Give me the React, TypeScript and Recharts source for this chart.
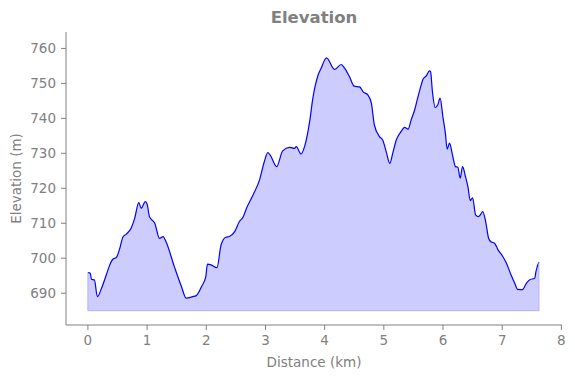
import { AreaChart, Area, XAxis, YAxis, ReferenceLine } from "recharts"

// distance along the route (km) and elevation (m)
const distanceKm = [
  0, 0.04, 0.06, 0.11, 0.16, 0.23, 0.31, 0.37, 0.42, 0.48, 0.54, 0.59, 0.65, 0.73, 0.79, 0.86, 0.9, 0.97, 1.0,
  1.04, 1.13, 1.21, 1.27, 1.32, 1.46, 1.58, 1.66, 1.77, 1.83, 1.92, 1.99, 2.02, 2.08, 2.18, 2.25, 2.33, 2.39,
  2.48, 2.56, 2.62, 2.68, 2.79, 2.9, 2.98, 3.04, 3.08, 3.19, 3.29, 3.41, 3.49, 3.52, 3.6, 3.66, 3.75, 3.8, 3.89,
  3.94, 4.0, 4.03, 4.17, 4.28, 4.34, 4.42, 4.5, 4.59, 4.65, 4.73, 4.79, 4.84, 4.93, 4.98, 5.04, 5.1, 5.15, 5.21,
  5.29, 5.35, 5.41, 5.46, 5.52, 5.57, 5.63, 5.66, 5.72, 5.77, 5.79, 5.82, 5.87, 5.91, 5.95, 6.0, 6.04, 6.07,
  6.11, 6.16, 6.21, 6.25, 6.29, 6.33, 6.38, 6.42, 6.46, 6.5, 6.55, 6.6, 6.63, 6.67, 6.72, 6.77, 6.81, 6.87,
  6.93, 7.01, 7.07, 7.15, 7.21, 7.26, 7.34, 7.41, 7.46, 7.55, 7.57, 7.62,
]
const elevationM = [
  695.9, 695.7, 694.0, 693.8, 689.0, 691.4, 695.2, 698.1, 699.7, 700.2, 702.9, 706.0, 706.9, 708.6, 711.4, 715.9,
  714.3, 716.2, 715.5, 711.9, 710.0, 705.7, 706.2, 704.7, 697.6, 691.9, 688.6, 689.0, 689.3, 691.9, 694.6, 698.3,
  698.1, 697.3, 703.8, 706.0, 706.2, 707.6, 710.5, 711.7, 714.3, 718.1, 722.4, 727.6, 730.2, 729.5, 726.2, 730.7,
  731.7, 731.4, 731.9, 729.8, 731.9, 739.5, 745.7, 752.4, 754.3, 756.7, 757.3, 754.0, 755.4, 754.3, 751.9, 749.2,
  749.0, 747.6, 746.7, 744.3, 738.1, 734.7, 733.8, 730.5, 727.1, 730.0, 733.8, 736.2, 737.4, 736.9, 739.5, 742.4,
  745.7, 749.5, 751.1, 752.2, 753.6, 753.3, 747.8, 743.1, 743.8, 745.8, 740.2, 735.7, 731.2, 732.9, 729.5, 726.2,
  726.0, 722.9, 726.2, 723.3, 720.5, 716.5, 717.3, 712.4, 711.9, 712.4, 713.3, 710.5, 705.7, 704.7, 704.3, 702.4,
  700.5, 698.6, 695.2, 692.9, 691.1, 691.0, 692.9, 693.8, 694.3, 696.2, 698.9,
]
const baseElevation = 685
const xTicks = [0, 1, 2, 3, 4, 5, 6, 7, 8]
const yTicks = [690, 700, 710, 720, 730, 740, 750, 760]

const data = distanceKm.map((km, i) => ({ km, elev: elevationM[i] }))
const lastKm = distanceKm[distanceKm.length - 1]

const gray = "#808080"
const font = "DejaVu Sans, sans-serif"

export default function App() {
  return (
    <div style={{ position: "absolute", left: 0, top: 0, width: 575, height: 378, background: "#fff", fontFamily: font }}>
      <div
        style={{
          position: "absolute",
          left: 66,
          width: 496,
          top: 8,
          textAlign: "center",
          fontSize: 16.5,
          fontWeight: "bold",
          color: gray,
        }}
      >
        Elevation
      </div>
      <AreaChart width={575} height={378} data={data} margin={{ top: 32, right: 13, bottom: 0, left: 0 }} baseValue={baseElevation}>
        <XAxis
          dataKey="km"
          type="number"
          domain={[-0.37, 8.01]}
          ticks={xTicks}
          allowDataOverflow
          height={53}
          stroke={gray}
          tickSize={5}
          tickMargin={5}
          tick={{ fill: gray, fontSize: 13.5, fontFamily: font }}
          label={{ value: "Distance (km)", position: "insideBottom", offset: 11, fill: gray, fontSize: 13.5, fontFamily: font }}
        />
        <YAxis
          type="number"
          domain={[680.9, 764.7]}
          ticks={yTicks}
          allowDataOverflow
          width={66}
          stroke={gray}
          tickSize={5}
          tickMargin={5}
          tick={{ fill: gray, fontSize: 13.5, fontFamily: font }}
          label={{
            value: "Elevation (m)",
            angle: -90,
            position: "insideLeft",
            offset: 16,
            fill: gray,
            fontSize: 13.5,
            fontFamily: font,
            style: { textAnchor: "middle" },
          }}
        />
        <Area
          type="monotone"
          dataKey="elev"
          baseValue={baseElevation}
          stroke="#0000ff"
          strokeWidth={1.2}
          fill="#ccccff"
          fillOpacity={1}
          dot={false}
          activeDot={false}
          isAnimationActive={false}
        />
        <ReferenceLine segment={[{ x: 0, y: baseElevation }, { x: lastKm, y: baseElevation }]} stroke="#b0b0ff" />
        <ReferenceLine segment={[{ x: 0, y: baseElevation }, { x: 0, y: elevationM[0] }]} stroke="#b0b0ff" />
        <ReferenceLine segment={[{ x: lastKm, y: baseElevation }, { x: lastKm, y: elevationM[elevationM.length - 1] }]} stroke="#b0b0ff" />
      </AreaChart>
    </div>
  )
}
